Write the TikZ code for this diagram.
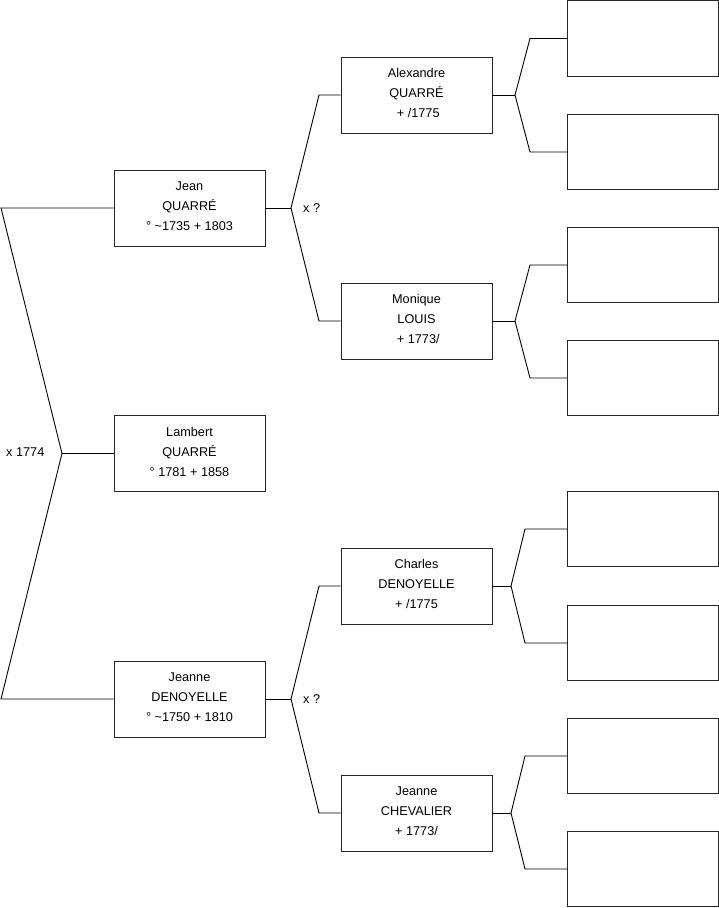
\documentclass[tikz,border=0pt]{standalone}
\usepackage{fontspec}
\setmainfont{Liberation Sans}
\begin{document}
\begin{tikzpicture}[x=1pt,y=-1pt,
  person/.style={draw=black!85,line width=0.9pt,minimum width=151pt,minimum height=76pt,inner sep=0pt},
  ptext/.style={inner sep=0pt,align=center,font=\fontsize{12.7}{20}\selectfont},
  emptybox/.style={draw=black!85,line width=0.9pt,minimum width=151pt,minimum height=75.5pt,inner sep=0pt},
  link/.style={draw=black,line width=0.9pt},
  marr/.style={anchor=west,inner sep=0pt,font=\fontsize{12.7}{14}\selectfont}]
\useasboundingbox (0,0) rectangle (719,908);
% persons
\node[person] (jean) at (189.5,208) {};
\node[person] (lambert) at (189.5,453.5) {};
\node[person] (jeanneD) at (189.5,699) {};
\node[person] (alex) at (416.5,95) {};
\node[person] (monique) at (416.5,321) {};
\node[person] (charles) at (416.5,586) {};
\node[person] (jeanneC) at (416.5,813) {};
\node[ptext] (jeanT) at ([yshift=2pt]jean.center) {Jean\\QUARRÉ\\° \textasciitilde1735 + 1803};
\node[ptext] (lambertT) at ([yshift=2pt]lambert.center) {Lambert\\QUARRÉ\\° 1781 + 1858};
\node[ptext] (jeanneDT) at ([yshift=2pt]jeanneD.center) {Jeanne\\DENOYELLE\\° \textasciitilde1750 + 1810};
\node[ptext] (alexT) at ([yshift=2pt]alex.center) {Alexandre\\QUARRÉ\\\ + /1775};
\node[ptext] (moniqueT) at ([yshift=2pt]monique.center) {Monique\\LOUIS\\\ + 1773/};
\node[ptext] (charlesT) at ([yshift=2pt]charles.center) {Charles\\DENOYELLE\\+ /1775};
\node[ptext] (jeanneCT) at ([yshift=2pt]jeanneC.center) {Jeanne\\CHEVALIER\\+ 1773/};
% empty boxes
\node[emptybox] (e1) at (643,38.5) {};
\node[emptybox] (e2) at (643,152) {};
\node[emptybox] (e3) at (643,265) {};
\node[emptybox] (e4) at (643,378) {};
\node[emptybox] (e5) at (643,529) {};
\node[emptybox] (e6) at (643,643) {};
\node[emptybox] (e7) at (643,756) {};
\node[emptybox] (e8) at (643,869) {};
% vertices and corners
\coordinate (v0) at (62,453.5);
\coordinate (c0a) at (1,208);
\coordinate (c0b) at (1,699);
\coordinate (v1) at (291,208);
\coordinate (c1a) at (319,95);
\coordinate (c1b) at (319,321);
\coordinate (v2) at (291,699);
\coordinate (c2a) at (319,586);
\coordinate (c2b) at (319,813);
\coordinate (v3) at (515,95);
\coordinate (c3a) at (530,38.5);
\coordinate (c3b) at (530,152);
\coordinate (v4) at (515,321);
\coordinate (c4a) at (530,265);
\coordinate (c4b) at (530,378);
\coordinate (v5) at (511,586);
\coordinate (c5a) at (525,529);
\coordinate (c5b) at (525,643);
\coordinate (v6) at (511,813);
\coordinate (c6a) at (525,756);
\coordinate (c6b) at (525,869);
% connectors
\draw[link] (jean.west) -- (c0a) -- (v0) -- (c0b) -- (jeanneD.west);
\draw[link] (lambert.west) -- (v0);
\draw[link] (jean.east) -- (v1);
\draw[link] (alex.west) -- (c1a) -- (v1) -- (c1b) -- (monique.west);
\draw[link] (jeanneD.east) -- (v2);
\draw[link] (charles.west) -- (c2a) -- (v2) -- (c2b) -- (jeanneC.west);
\draw[link] (alex.east) -- (v3);
\draw[link] (e1.west) -- (c3a) -- (v3) -- (c3b) -- (e2.west);
\draw[link] (monique.east) -- (v4);
\draw[link] (e3.west) -- (c4a) -- (v4) -- (c4b) -- (e4.west);
\draw[link] (charles.east) -- (v5);
\draw[link] (e5.west) -- (c5a) -- (v5) -- (c5b) -- (e6.west);
\draw[link] (jeanneC.east) -- (v6);
\draw[link] (e7.west) -- (c6a) -- (v6) -- (c6b) -- (e8.west);
% marriage labels
\node[marr] (m0) at (6,452) {x 1774};
\node[marr] (m1) at (303,208) {x ?};
\node[marr] (m2) at (303,699) {x ?};
\end{tikzpicture}
\end{document}
